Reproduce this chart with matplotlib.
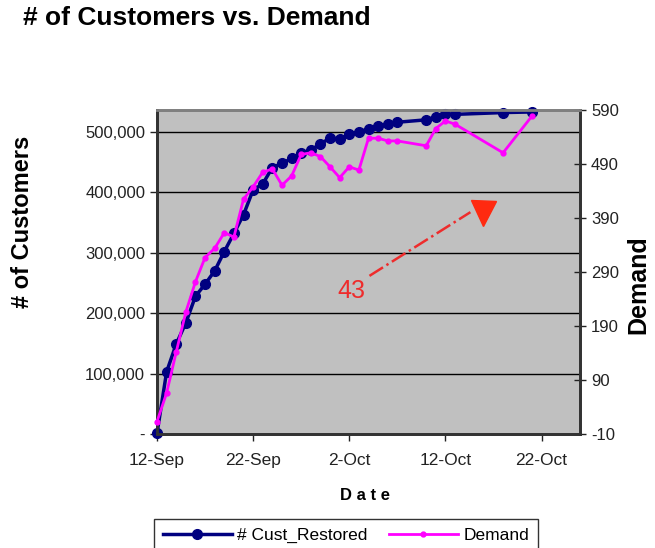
import pandas as pd
import matplotlib
matplotlib.use("Agg")
import matplotlib.pyplot as plt

plt.rcParams['font.family'] = ['Liberation Sans', 'DejaVu Sans']
plt.rcParams['axes.unicode_minus'] = False

# data
start = pd.Timestamp('2005-09-12')
day_offset = [0, 1, 2, 3, 4, 5, 6, 7, 8, 9, 10, 11, 12, 13, 14, 15, 16, 17, 18, 19,
              20, 21, 22, 23, 24, 25, 28, 29, 30, 31, 36, 39]
cust_restored = [1000, 103000, 149000, 184000, 228000, 248000, 270000, 302000, 332000,
                 363000, 404000, 414000, 441000, 448000, 456000, 465000, 470000, 480000,
                 490000, 488000, 496000, 500000, 505000, 509000, 513000, 516000, 520000,
                 525000, 529000, 529000, 532000, 533000]
demand = [13, 66, 142, 216, 272, 317, 334, 363, 355, 425, 448, 475, 481, 451, 468, 508,
          511, 504, 485, 465, 485, 479, 538, 538, 533, 533, 524, 556, 570, 564, 511, 579]

left_ticks = [0, 100000, 200000, 300000, 400000, 500000]
left_labels = ['-', '100,000', '200,000', '300,000', '400,000', '500,000']
right_ticks = [-10, 90, 190, 290, 390, 490, 590]
date_ticks = ['2005-09-12', '2005-09-22', '2005-10-02', '2005-10-12', '2005-10-22']
date_labels = ['12-Sep', '22-Sep', '2-Oct', '12-Oct', '22-Oct']

dates = [start + pd.Timedelta(days=d) for d in day_offset]

fig = plt.figure(figsize=(6.55, 5.48), dpi=100)
ax1 = fig.add_axes([0.2397, 0.208, 0.6458, 0.591])
ax1.set_facecolor('#C0C0C0')

ax1.plot(dates, cust_restored, color='#000080', linewidth=2.5, marker='o',
         markersize=7, label='# Cust_Restored', zorder=3, clip_on=False)
ax1.set_ylim(0, 536000)
ax1.set_yticks(left_ticks)
ax1.set_yticklabels(left_labels)
ax1.set_xlim(start, start + pd.Timedelta(days=44))
ax1.set_xticks(pd.to_datetime(date_ticks))
ax1.set_xticklabels(date_labels)
ax1.yaxis.grid(True, color='black', linewidth=1)
ax1.set_axisbelow(True)
ax1.tick_params(axis='both', labelsize=12, labelcolor='#222222', color='#222222',
                length=5, width=1)
ax1.tick_params(axis='x', pad=9, labelsize=12.5)

ax2 = ax1.twinx()
ax2.plot(dates, demand, color='#FF00FF', linewidth=2, marker='o', markersize=3.5,
         label='Demand', zorder=4, clip_on=False)
ax2.set_ylim(-10, 590)
ax2.set_yticks(right_ticks)
ax2.tick_params(axis='y', labelsize=12, labelcolor='#222222', color='#222222',
                direction='inout', length=9, width=1)

for ax in (ax1, ax2):
    for side in ('left', 'bottom', 'right'):
        ax.spines[side].set_color('#333333')
        ax.spines[side].set_linewidth(2)
    ax.spines['top'].set_color('#808080')
    ax.spines['top'].set_linewidth(2)

# annotation
ax2.plot([start + pd.Timedelta(days=22.1), start + pd.Timedelta(days=32.6)], [283, 401],
         color='#EE2C2C', linewidth=1.8, linestyle='-.', zorder=5)
ax2.plot([start + pd.Timedelta(days=33.9)], [400], marker='v', markersize=18,
         color='#FF2A10', linestyle='none', zorder=5)
ax2.text(start + pd.Timedelta(days=18.8), 255, '43', color='#EE2C2C', fontsize=18,
         ha='left', va='center')

fig.text(0.035, 0.967, '# of Customers vs. Demand', fontsize=19, fontweight='bold',
         ha='left', va='center')
fig.text(0.034, 0.595, '# of Customers', fontsize=17, fontweight='bold',
         rotation=90, ha='center', va='center')
fig.text(0.974, 0.481, 'Demand', fontsize=18, fontweight='bold',
         rotation=90, ha='center', va='center')
fig.text(0.557, 0.095, 'D a t e', fontsize=12, fontweight='bold',
         ha='center', va='center')

h1, l1 = ax1.get_legend_handles_labels()
h2, l2 = ax2.get_legend_handles_labels()
leg = fig.legend(h1 + h2, l1 + l2, loc='upper center', bbox_to_anchor=(0.528, 0.068),
                 ncol=2, fontsize=12.5, frameon=True, fancybox=False, handlelength=4,
                 handletextpad=0.3, columnspacing=1.2, borderpad=0.5)
leg.get_frame().set_edgecolor('black')
leg.get_frame().set_linewidth(1)

fig.savefig('out.png', dpi=100)
